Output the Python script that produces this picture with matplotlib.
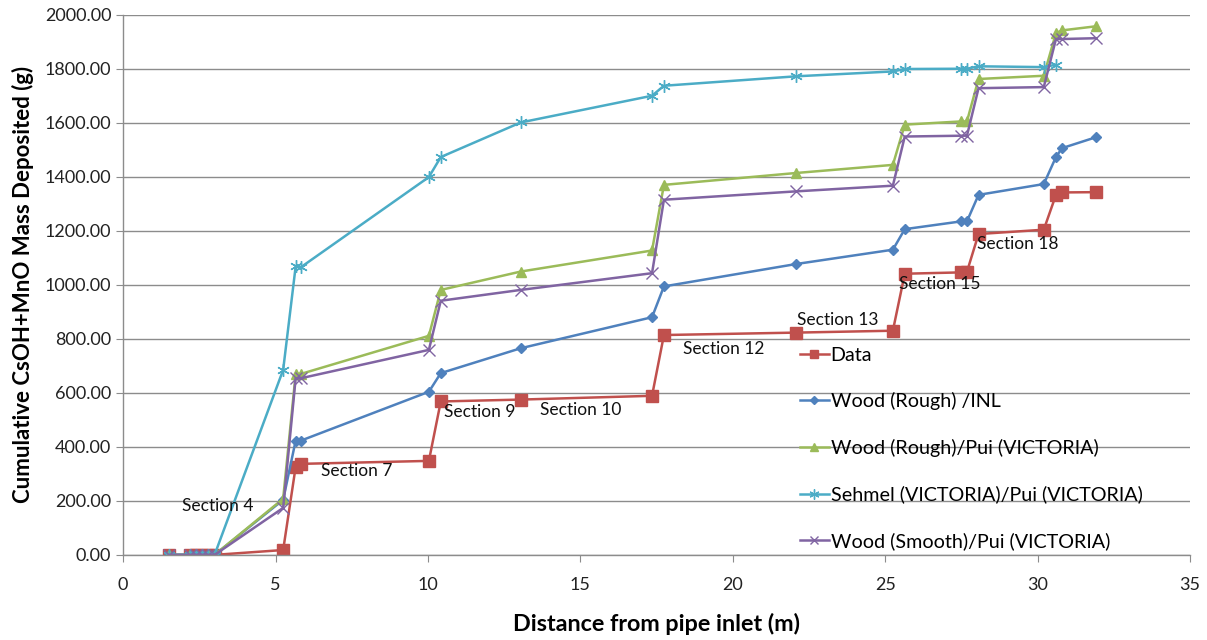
import numpy as np
import matplotlib
matplotlib.use("Agg")
import matplotlib.pyplot as plt
from matplotlib.ticker import FormatStrFormatter, MultipleLocator

plt.rcParams['font.family'] = ['Lato', 'DejaVu Sans']

# distance from pipe inlet (m), shared by all series
dist = [1.5, 2.2, 2.4, 2.6, 2.8, 3.0, 5.25, 5.66, 5.83, 10.03, 10.42, 13.04,
        17.35, 17.74, 22.08, 25.25, 25.64, 27.5, 27.68, 28.06, 30.2, 30.6, 30.8, 31.9]

data = [0, 0, 0, 0, 0, 0, 18, 326, 337, 348, 568, 575,
        589, 814, 823, 830, 1041, 1046, 1048, 1188, 1204, 1333, 1342, 1343]
wood_rough_inl = [0, 0, 0, 0, 0, 0, 204, 423, 423, 604, 673, 765,
                  880, 994, 1077, 1130, 1206, 1235, 1235, 1333, 1373, 1473, 1506, 1546]
wood_rough_pui = [0, 0, 0, 0, 0, 0, 208, 670, 670, 811, 981, 1049,
                  1127, 1370, 1414, 1444, 1593, 1605, 1605, 1762, 1774, 1932, 1942, 1957]
sehmel_pui = [0, 0, 0, 0, 0, 0, 685, 1068, 1065, 1399, 1473, 1601,
              1700, 1737, 1772, 1790, 1799, 1800, 1800, 1809, 1806, 1815, np.nan, np.nan]
wood_smooth_pui = [0, 0, 0, 0, 0, 0, 174, 654, 654, 759, 941, 981,
                   1043, 1315, 1346, 1367, 1549, 1552, 1552, 1728, 1732, 1910, 1910, 1913]

sections = ["Section 4", "Section 7", "Section 9", "Section 10", "Section 12",
            "Section 13", "Section 15", "Section 18"]
section_x = [1.94, 6.49, 10.51, 13.67, 18.35, 22.11, 25.44, 28.0]
section_y = [181, 311, 530, 537, 763, 870, 1004, 1152]

fig = plt.figure(figsize=(12.07, 6.4), dpi=100)
ax = fig.add_axes([0.102, 0.133, 0.884, 0.844])

asterisk = (6, 2, 0)
ax.plot(dist, data, color="#C0504D", marker="s", ms=8, lw=1.8, label="Data")
ax.plot(dist, wood_rough_inl, color="#4F81BD", marker="D", ms=5, lw=1.8,
        label="Wood (Rough) /INL")
ax.plot(dist, wood_rough_pui, color="#9BBB59", marker="^", ms=7, lw=1.8,
        label="Wood (Rough)/Pui (VICTORIA)")
ax.plot(dist, sehmel_pui, color="#4BACC6", marker=asterisk, ms=9, mew=1.0, lw=1.8,
        label="Sehmel (VICTORIA)/Pui (VICTORIA)")
ax.plot(dist, wood_smooth_pui, color="#8064A2", marker="x", ms=8, mew=1.0, lw=1.8,
        label="Wood (Smooth)/Pui (VICTORIA)")

for s, sx, sy in zip(sections, section_x, section_y):
    ax.text(sx, sy, s, fontsize=12.5, ha="left", va="center", color="#111111")

ax.set_xlim(0, 35)
ax.set_ylim(0, 2000)
ax.xaxis.set_major_locator(MultipleLocator(5))
ax.yaxis.set_major_locator(MultipleLocator(200))
ax.yaxis.set_major_formatter(FormatStrFormatter("%.2f"))
ax.grid(axis="y", color="#8C8C8C", lw=1.0)
ax.set_axisbelow(True)
for side in ["top", "right"]:
    ax.spines[side].set_visible(False)
for side in ["left", "bottom"]:
    ax.spines[side].set_color("#8C8C8C")
    ax.spines[side].set_linewidth(1.0)
ax.tick_params(colors="#8C8C8C", labelcolor="#222222", labelsize=13, length=5)
ax.tick_params(axis="x", pad=11)

ax.set_xlabel("Distance from pipe inlet (m)", fontsize=16.8, fontweight="bold", labelpad=14)
ax.set_ylabel("Cumulative CsOH+MnO Mass Deposited (g)", fontsize=16,
              fontweight="bold", labelpad=8)

ax.legend(loc="upper left", bbox_to_anchor=(0.627, 0.40), frameon=False,
          fontsize=14.2, labelspacing=1.45, handlelength=1.45, handletextpad=0.1,
          borderaxespad=0, markerscale=0.8)

fig.savefig("out.png", dpi=100)
